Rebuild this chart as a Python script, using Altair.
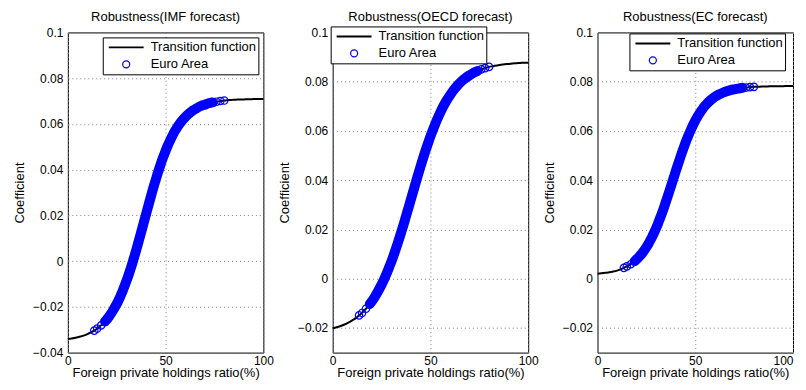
import altair as alt
import pandas as pd

FONT = "Liberation Sans"

# shared x grid (Foreign private holdings ratio, %)
X_GRID = [0, 2, 4, 6, 8, 10, 12, 13.5, 15, 17, 19, 21, 23,
          25, 26, 27, 28, 29, 30, 31, 32, 33, 34, 35, 36, 37, 38, 39, 40,
          41, 42, 43, 44, 45, 46, 47, 48, 49, 50, 51, 52, 53, 54, 55, 56,
          58, 60, 62, 64, 66, 68, 70, 72, 74, 76, 78, 80,
          82, 84, 86, 88, 90, 92, 94, 96, 98, 100]

# range of the observed Euro Area data (circles) and of its dense core
CIRCLE_X_MIN = 13.5
CIRCLE_X_MAX = 80
DENSE_X_MIN = 19
DENSE_X_MAX = 74

IMF_Y = [-0.0340, -0.0338, -0.0335, -0.0331, -0.0326, -0.0319, -0.0311,
         -0.0304, -0.0295, -0.0281, -0.0264, -0.0243, -0.0217,
         -0.0187, -0.0170, -0.0151, -0.0131, -0.0109, -0.0086, -0.0062, -0.0036,
         -0.0009, 0.0020, 0.0049, 0.0080, 0.0111, 0.0142, 0.0174, 0.0205,
         0.0237, 0.0268, 0.0299, 0.0329, 0.0357, 0.0385, 0.0411, 0.0437, 0.0460,
         0.0482, 0.0503, 0.0522, 0.0540, 0.0557, 0.0572, 0.0586,
         0.0610, 0.0629, 0.0645, 0.0659, 0.0669, 0.0678, 0.0684, 0.0690, 0.0694,
         0.0697, 0.0700, 0.0702,
         0.0704, 0.0705, 0.0706, 0.0707, 0.0707, 0.0708, 0.0708, 0.0709, 0.0709, 0.0709]

OECD_Y = [-0.0201, -0.0197, -0.0192, -0.0186, -0.0178, -0.0169, -0.0159,
          -0.0149, -0.0139, -0.0122, -0.0103, -0.0081, -0.0054,
          -0.0024, -0.0008, 0.0010, 0.0029, 0.0049, 0.0069, 0.0091, 0.0114,
          0.0138, 0.0162, 0.0188, 0.0213, 0.0240, 0.0267, 0.0294, 0.0322,
          0.0349, 0.0377, 0.0404, 0.0431, 0.0457, 0.0483, 0.0508, 0.0532, 0.0555,
          0.0578, 0.0599, 0.0619, 0.0639, 0.0657, 0.0674, 0.0691,
          0.0720, 0.0745, 0.0767, 0.0786, 0.0802, 0.0815, 0.0826, 0.0836, 0.0843,
          0.0850, 0.0855, 0.0860,
          0.0863, 0.0866, 0.0869, 0.0871, 0.0872, 0.0874, 0.0875, 0.0876, 0.0877, 0.0877]

EC_Y = [0.0020, 0.0022, 0.0024, 0.0026, 0.0029, 0.0033, 0.0039,
        0.0044, 0.0050, 0.0059, 0.0071, 0.0087, 0.0105,
        0.0128, 0.0141, 0.0156, 0.0171, 0.0188, 0.0206, 0.0225, 0.0246,
        0.0267, 0.0289, 0.0313, 0.0337, 0.0361, 0.0386, 0.0411, 0.0436,
        0.0460, 0.0484, 0.0508, 0.0530, 0.0552, 0.0572, 0.0591, 0.0609, 0.0626,
        0.0642, 0.0656, 0.0669, 0.0681, 0.0692, 0.0702, 0.0711,
        0.0726, 0.0738, 0.0748, 0.0755, 0.0761, 0.0766, 0.0769, 0.0772, 0.0775,
        0.0776, 0.0778, 0.0779,
        0.0779, 0.0780, 0.0780, 0.0781, 0.0781, 0.0781, 0.0781, 0.0782, 0.0782, 0.0782]

SERIES = ["Transition function", "Euro Area"]
TITLES = ["Robustness(IMF forecast)", "Robustness(OECD forecast)", "Robustness(EC forecast)"]
Y_DOMAINS = [[-0.04, 0.1], [-0.03, 0.1], [-0.03, 0.1]]
Y_TICKS = [[-0.04, -0.02, 0, 0.02, 0.04, 0.06, 0.08, 0.1],
           [-0.02, 0, 0.02, 0.04, 0.06, 0.08, 0.1],
           [-0.02, 0, 0.02, 0.04, 0.06, 0.08, 0.1]]
LEGEND_POS = [(35, 5), (-2, -6), (32, 1)]

IS_PTS = "datum.value == 'Euro Area'"
BLUE = "#0000ff"


def panel(title, yvals, ydomain, yticks, lpos, last=False):
    df = pd.DataFrame({"x": X_GRID, "y": yvals})
    line_df = df.assign(series=SERIES[0])
    pts_df = df[(df.x >= CIRCLE_X_MIN) & (df.x <= CIRCLE_X_MAX)].assign(series=SERIES[1])
    dense_df = df[(df.x >= DENSE_X_MIN) & (df.x <= DENSE_X_MAX)]

    color = alt.Color(
        "series:N",
        scale=alt.Scale(domain=SERIES, range=["#000000", BLUE]),
        legend=alt.Legend(
            title=None, orient="none", legendX=lpos[0], legendY=lpos[1],
            strokeColor="black", fillColor="white", padding=2,
            labelFont=FONT, labelFontSize=13, labelColor="black", labelOffset=6,
            symbolOffset=3, clipHeight=16, rowPadding=1, columns=1,
            symbolType={"expr": f"({IS_PTS} ? 'circle' : 'stroke')"},
            symbolSize={"expr": f"({IS_PTS} ? 50 : 1225)"},
            symbolStrokeWidth={"expr": f"({IS_PTS} ? 1.2 : 2)"},
            symbolFillColor="transparent",
        ),
    )
    xaxis_kw = dict(values=[0, 50, 100], format="d",
                    title="Foreign private holdings ratio(%)",
                    labelFlush=False, labelPadding=3, titlePadding=0)
    if last:
        # keep the right-most label inside the page
        xaxis_kw["labelAlign"] = {"expr": "datum.value == 100 ? 'right' : 'center'"}
    xenc = alt.X(
        "x:Q",
        scale=alt.Scale(domain=[0, 100], nice=False, zero=False),
        axis=alt.Axis(**xaxis_kw),
    )
    yenc = alt.Y(
        "y:Q",
        scale=alt.Scale(domain=ydomain, nice=False, zero=False),
        axis=alt.Axis(values=yticks, format=".2~f", title="Coefficient",
                      labelFlush=False, labelPadding=5, titlePadding=6),
    )
    line = alt.Chart(line_df).mark_line(strokeWidth=2, interpolate="monotone").encode(
        x=xenc, y=yenc, color=color
    )
    # dense, overlapping circles merge into a solid band
    band = alt.Chart(dense_df).mark_line(
        strokeWidth=10, interpolate="monotone", strokeCap="round", color=BLUE
    ).encode(x=xenc, y=yenc)
    pts = alt.Chart(pts_df).mark_point(
        shape="circle", filled=False, size=55, strokeWidth=1.2, opacity=1
    ).encode(x=xenc, y=yenc, color=color)
    return alt.layer(line, band, pts).properties(
        width=196, height=321,
        title=alt.Title(title, fontSize=13, font=FONT, fontWeight="normal",
                        color="black", offset=2, anchor="middle"),
    )


panels = [panel(TITLES[i], ys, Y_DOMAINS[i], Y_TICKS[i], LEGEND_POS[i], last=(i == 2))
          for i, ys in enumerate([IMF_Y, OECD_Y, EC_Y])]

chart = (
    alt.hconcat(*panels, spacing=69.5, bounds="flush")
    .resolve_scale(color="independent", x="independent", y="independent")
    .resolve_legend(color="independent")
    .properties(padding={"left": 5, "top": 2, "right": 0, "bottom": 0})
    .configure_view(stroke="black", strokeWidth=1)
    .configure_axis(
        grid=True, gridColor="#7f7f7f", gridDash=[1, 3], gridWidth=1, gridOpacity=1,
        ticks=False, domain=False,
        labelFont=FONT, labelFontSize=12, labelColor="black",
        titleFont=FONT, titleFontSize=13, titleFontWeight="normal", titleColor="black",
        labelOverlap=False,
    )
)

chart.save("out.html", embed_options={"renderer": "svg", "actions": False})
